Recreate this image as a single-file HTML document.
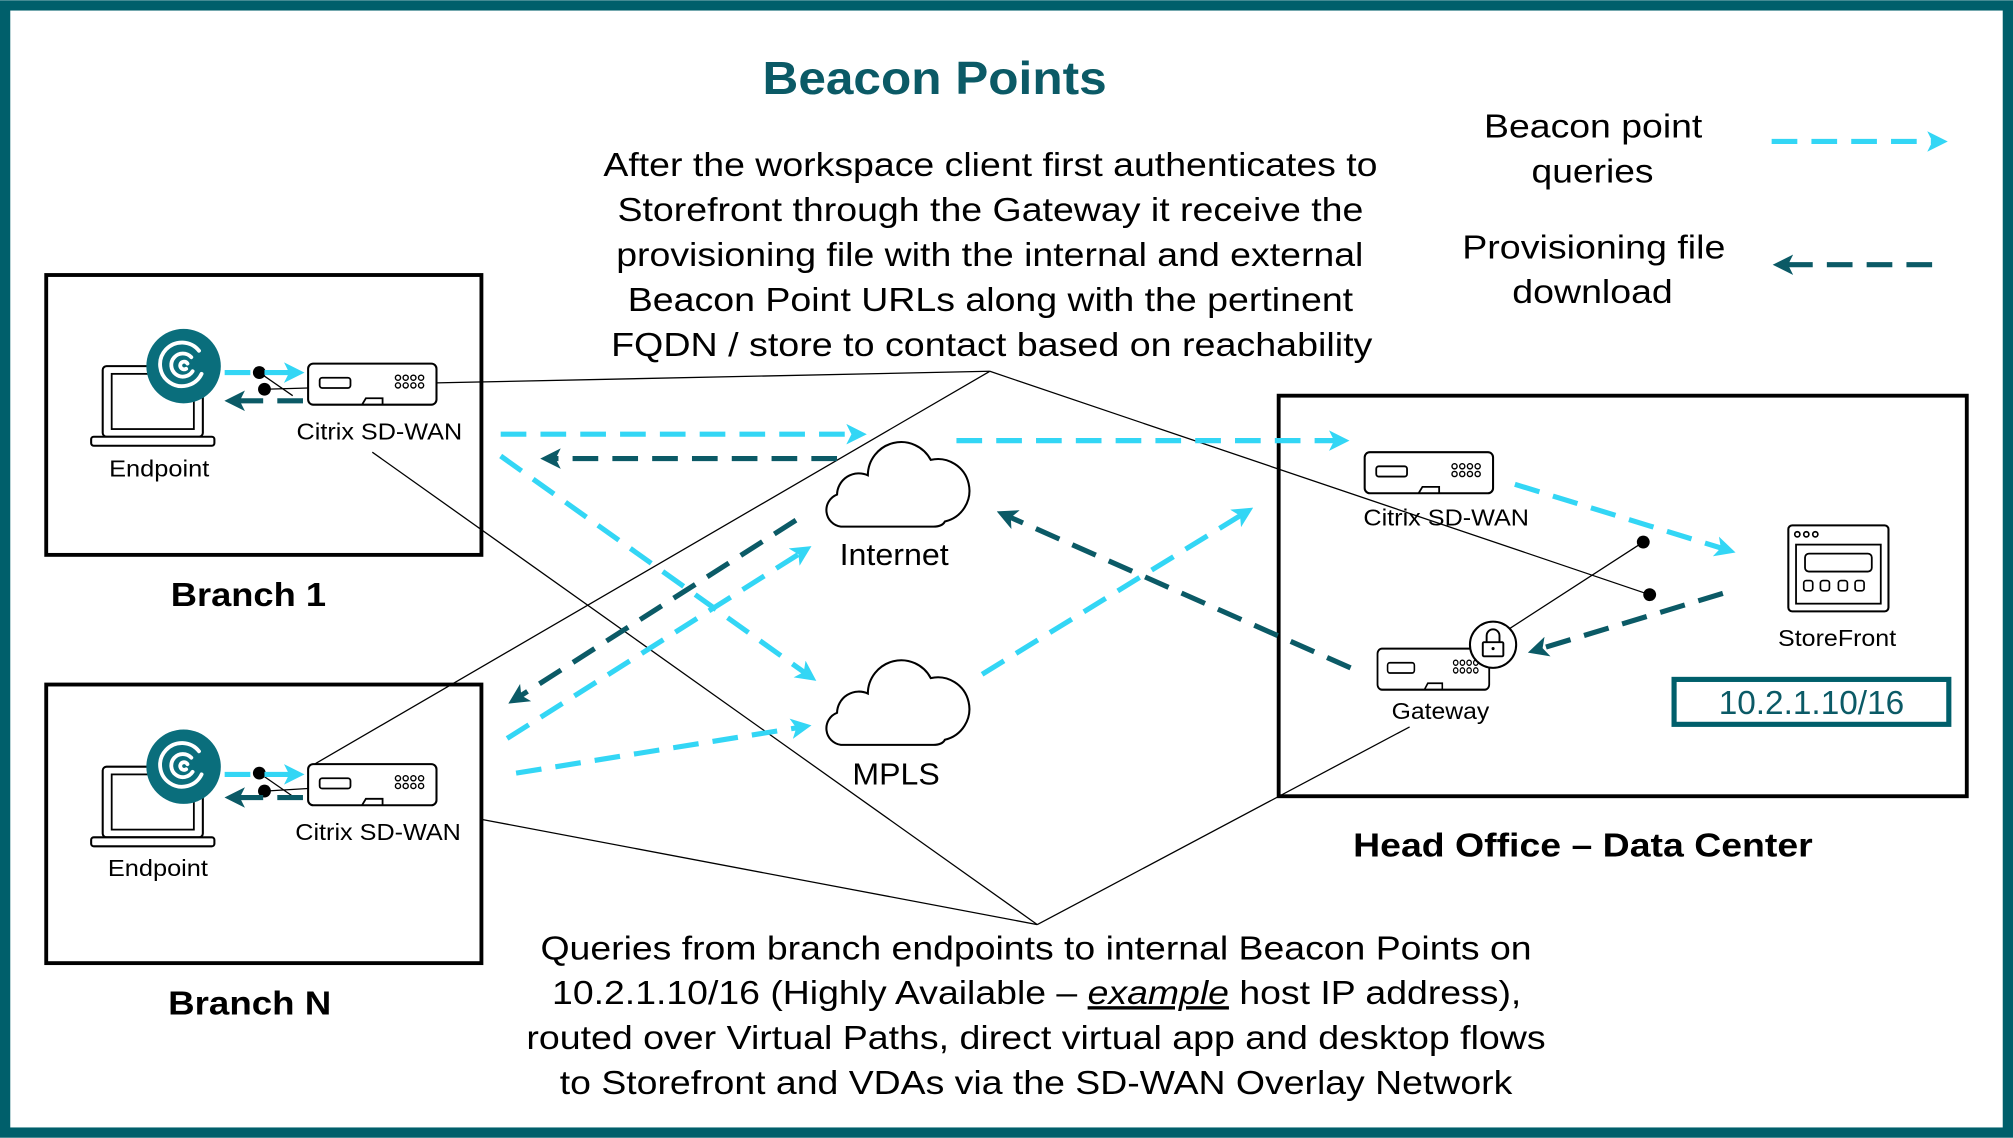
<!DOCTYPE html>
<html><head><meta charset="utf-8"><style>
html,body{margin:0;padding:0;background:#fff;}
svg{display:block;}
text{font-family:"Liberation Sans",Arial,sans-serif;}
</style></head><body>
<svg width="2013" height="1138" viewBox="0 0 1568 886" xmlns="http://www.w3.org/2000/svg">
<defs>
<marker id="ac" markerWidth="4" markerHeight="4" refX="2.2" refY="2" orient="auto" markerUnits="strokeWidth"><path d="M0,0 L4,2 L0,4 L1,2 Z" fill="#33d6f5"/></marker>
<marker id="ad" markerWidth="4" markerHeight="4" refX="2.2" refY="2" orient="auto" markerUnits="strokeWidth"><path d="M0,0 L4,2 L0,4 L1,2 Z" fill="#0b5a66"/></marker>
<g id="dev">
<rect x="0" y="0" width="100" height="32" rx="4" fill="#fff" stroke="#000" stroke-width="1.6"/>
<rect x="9" y="11" width="24" height="8" rx="2" fill="none" stroke="#000" stroke-width="1.4"/>
<g fill="none" stroke="#000" stroke-width="1.1"><circle cx="70" cy="11" r="2"/><circle cx="76" cy="11" r="2"/><circle cx="82" cy="11" r="2"/><circle cx="88" cy="11" r="2"/><circle cx="70" cy="17" r="2"/><circle cx="76" cy="17" r="2"/><circle cx="82" cy="17" r="2"/><circle cx="88" cy="17" r="2"/></g>
<path d="M42,32 L45,27 L58,27 L58,32" fill="none" stroke="#000" stroke-width="1.4"/>
</g>
<g id="ep">
<rect x="9" y="0" width="78" height="55" rx="3" fill="#fff" stroke="#000" stroke-width="1.6"/>
<rect x="16" y="6" width="64" height="43" fill="none" stroke="#000" stroke-width="1.4"/>
<rect x="0" y="55" width="96" height="7" rx="2" fill="#fff" stroke="#000" stroke-width="1.6"/>
<circle cx="72" cy="0" r="29" fill="#0a6e7c"/>
<g fill="none" stroke="#fff" stroke-width="3" stroke-linecap="round">
<path d="M86,6 A17,17 0 1 1 84,-12"/><path d="M79,4 A9,9 0 1 1 78,-7"/><path d="M74,2 A3,3 0 1 1 75,-2"/>
</g>
</g>
</defs>
<rect x="4" y="4" width="1560" height="878" fill="#fff" stroke="#005f6b" stroke-width="8"/>
<text x="594" y="73" font-size="36" font-weight="bold" fill="#0b5a66" textLength="268" lengthAdjust="spacingAndGlyphs">Beacon Points</text>
<g font-size="26" fill="#000" lengthAdjust="spacingAndGlyphs">
<text x="470" y="137" textLength="603" lengthAdjust="spacingAndGlyphs">After the workspace client first authenticates to</text>
<text x="481" y="172" textLength="581" lengthAdjust="spacingAndGlyphs">Storefront through the Gateway it receive the</text>
<text x="480" y="207" textLength="582" lengthAdjust="spacingAndGlyphs">provisioning file with the internal and external</text>
<text x="489" y="242" textLength="565" lengthAdjust="spacingAndGlyphs">Beacon Point URLs along with the pertinent</text>
<text x="476" y="277" textLength="593" lengthAdjust="spacingAndGlyphs">FQDN / store to contact based on reachability</text>
<text x="1156" y="107" textLength="170" lengthAdjust="spacingAndGlyphs">Beacon point</text>
<text x="1193" y="142" textLength="95" lengthAdjust="spacingAndGlyphs">queries</text>
<text x="1139" y="201" textLength="205" lengthAdjust="spacingAndGlyphs">Provisioning file</text>
<text x="1178" y="236" textLength="125" lengthAdjust="spacingAndGlyphs">download</text>
<text x="421" y="747" textLength="772" lengthAdjust="spacingAndGlyphs">Queries from branch endpoints to internal Beacon Points on</text>
<text x="430" y="782" textLength="755" lengthAdjust="spacingAndGlyphs">10.2.1.10/16 (Highly Available – <tspan font-style="italic" text-decoration="underline">example</tspan> host IP address),</text>
<text x="410" y="817" textLength="794" lengthAdjust="spacingAndGlyphs">routed over Virtual Paths, direct virtual app and desktop flows</text>
<text x="436" y="852" textLength="742" lengthAdjust="spacingAndGlyphs">to Storefront and VDAs via the SD-WAN Overlay Network</text>
</g>
<!-- boxes -->
<g fill="none" stroke="#000" stroke-width="3">
<rect x="36" y="214" width="339" height="218"/>
<rect x="36" y="533" width="339" height="217"/>
<rect x="996" y="308" width="536" height="312"/>
</g>
<g font-size="26" font-weight="bold">
<text x="133" y="472" textLength="121" lengthAdjust="spacingAndGlyphs">Branch 1</text>
<text x="131" y="790" textLength="127" lengthAdjust="spacingAndGlyphs">Branch N</text>
<text x="1054" y="667" textLength="358" lengthAdjust="spacingAndGlyphs">Head Office – Data Center</text>
</g>
<!-- thin lines -->
<g stroke="#000" stroke-width="1" fill="none">
<line x1="340" y1="298" x2="771" y2="289"/>
<line x1="771" y1="289" x2="245" y2="595"/>
<line x1="771" y1="289" x2="1285" y2="463"/>
<line x1="808" y1="720" x2="290" y2="352"/>
<line x1="808" y1="720" x2="375" y2="638"/>
<line x1="808" y1="720" x2="1098" y2="566"/>
<line x1="1280" y1="422" x2="1175" y2="490"/>
<line x1="202" y1="290" x2="228" y2="308"/>
<line x1="206" y1="303" x2="240" y2="302"/>
<line x1="202" y1="602" x2="228" y2="620"/>
<line x1="206" y1="616" x2="240" y2="614"/>
</g>
<g fill="#000"><circle cx="202" cy="290" r="5"/><circle cx="206" cy="303" r="5"/><circle cx="202" cy="602" r="5"/><circle cx="206" cy="616" r="5"/><circle cx="1280" cy="422" r="5"/><circle cx="1285" cy="463" r="5"/></g>
<!-- devices -->
<use href="#ep" x="71" y="285"/>
<use href="#ep" x="71" y="597"/>
<use href="#dev" x="240" y="283"/>
<use href="#dev" x="240" y="595"/>
<use href="#dev" x="1063" y="352"/>
<use href="#dev" x="1073" y="505" transform="translate(1073 505) scale(0.87 1) translate(-1073 -505)"/>
<circle cx="1163" cy="502" r="18" fill="#fff" stroke="#000" stroke-width="1.6"/>
<rect x="1155" y="500" width="16" height="11" rx="1" fill="none" stroke="#000" stroke-width="1.5"/>
<path d="M1158,500 V495 A5,5 0 0 1 1168,495 V500" fill="none" stroke="#000" stroke-width="1.5"/>
<circle cx="1163" cy="505" r="1.2"/>
<!-- storefront -->
<rect x="1393" y="409" width="78" height="67" rx="3" fill="#fff" stroke="#000" stroke-width="1.6"/>
<rect x="1399" y="424" width="66" height="46" fill="none" stroke="#000" stroke-width="1.4"/>
<rect x="1406" y="431" width="52" height="14" rx="3" fill="none" stroke="#000" stroke-width="1.4"/>
<g fill="none" stroke="#000" stroke-width="1.3"><circle cx="1400" cy="416" r="2"/><circle cx="1407" cy="416" r="2"/><circle cx="1414" cy="416" r="2"/>
<rect x="1405" y="452" width="7" height="8" rx="2"/><rect x="1418" y="452" width="7" height="8" rx="2"/><rect x="1432" y="452" width="7" height="8" rx="2"/><rect x="1445" y="452" width="7" height="8" rx="2"/></g>
<g font-size="18">
<text x="85" y="371" textLength="78" lengthAdjust="spacingAndGlyphs">Endpoint</text>
<text x="231" y="342" textLength="129" lengthAdjust="spacingAndGlyphs">Citrix SD-WAN</text>
<text x="84" y="682" textLength="78" lengthAdjust="spacingAndGlyphs">Endpoint</text>
<text x="230" y="654" textLength="129" lengthAdjust="spacingAndGlyphs">Citrix SD-WAN</text>
<text x="1062" y="409" textLength="129" lengthAdjust="spacingAndGlyphs">Citrix SD-WAN</text>
<text x="1084" y="560" textLength="76" lengthAdjust="spacingAndGlyphs">Gateway</text>
<text x="1385" y="503" textLength="92" lengthAdjust="spacingAndGlyphs">StoreFront</text>
</g>
<rect x="1304" y="529" width="214" height="35" fill="#fff" stroke="#005f6b" stroke-width="4"/>
<text x="1411" y="556" font-size="26" fill="#0b5a66" text-anchor="middle">10.2.1.10/16</text>
<!-- clouds -->
<g fill="#fff" stroke="#000" stroke-width="1.6">
<path d="M655,410 A13,13 0 0 1 652,385 A17,17 0 0 1 676,370 A26,26 0 0 1 725,358 A20,20 0 0 1 736,406 Q734,410 727,410 Z"/>
<path d="M655,580 A13,13 0 0 1 652,555 A17,17 0 0 1 676,540 A26,26 0 0 1 725,528 A20,20 0 0 1 736,576 Q734,580 727,580 Z"/>
</g>
<g font-size="24"><text x="654" y="440" textLength="85" lengthAdjust="spacingAndGlyphs">Internet</text><text x="664" y="611" textLength="68" lengthAdjust="spacingAndGlyphs">MPLS</text></g>
<!-- dashed arrows -->
<g fill="none" stroke-width="4" stroke-dasharray="20 11">
<g stroke="#33d6f5" marker-end="url(#ac)">
<line x1="1380" y1="110" x2="1510" y2="110"/>
<line x1="390" y1="338" x2="668" y2="338"/>
<line x1="745" y1="343" x2="1044" y2="343"/>
<line x1="390" y1="355" x2="630" y2="526"/>
<line x1="395" y1="575" x2="626" y2="429"/>
<line x1="402" y1="602" x2="625" y2="566"/>
<line x1="765" y1="525" x2="970" y2="399"/>
<line x1="1180" y1="377" x2="1345" y2="428"/>
<line x1="175" y1="290" x2="230" y2="290"/>
<line x1="175" y1="603" x2="230" y2="603"/>
</g>
<g stroke="#0b5a66" marker-end="url(#ad)">
<line x1="1505" y1="206" x2="1388" y2="206"/>
<line x1="652" y1="357" x2="428" y2="357"/>
<line x1="620" y1="405" x2="402" y2="544"/>
<line x1="1052" y1="520" x2="783" y2="401"/>
<line x1="1342" y1="462" x2="1197" y2="506"/>
<line x1="236" y1="312" x2="182" y2="312"/>
<line x1="236" y1="621" x2="182" y2="621"/>
</g>
</g>
</svg>
</body></html>
